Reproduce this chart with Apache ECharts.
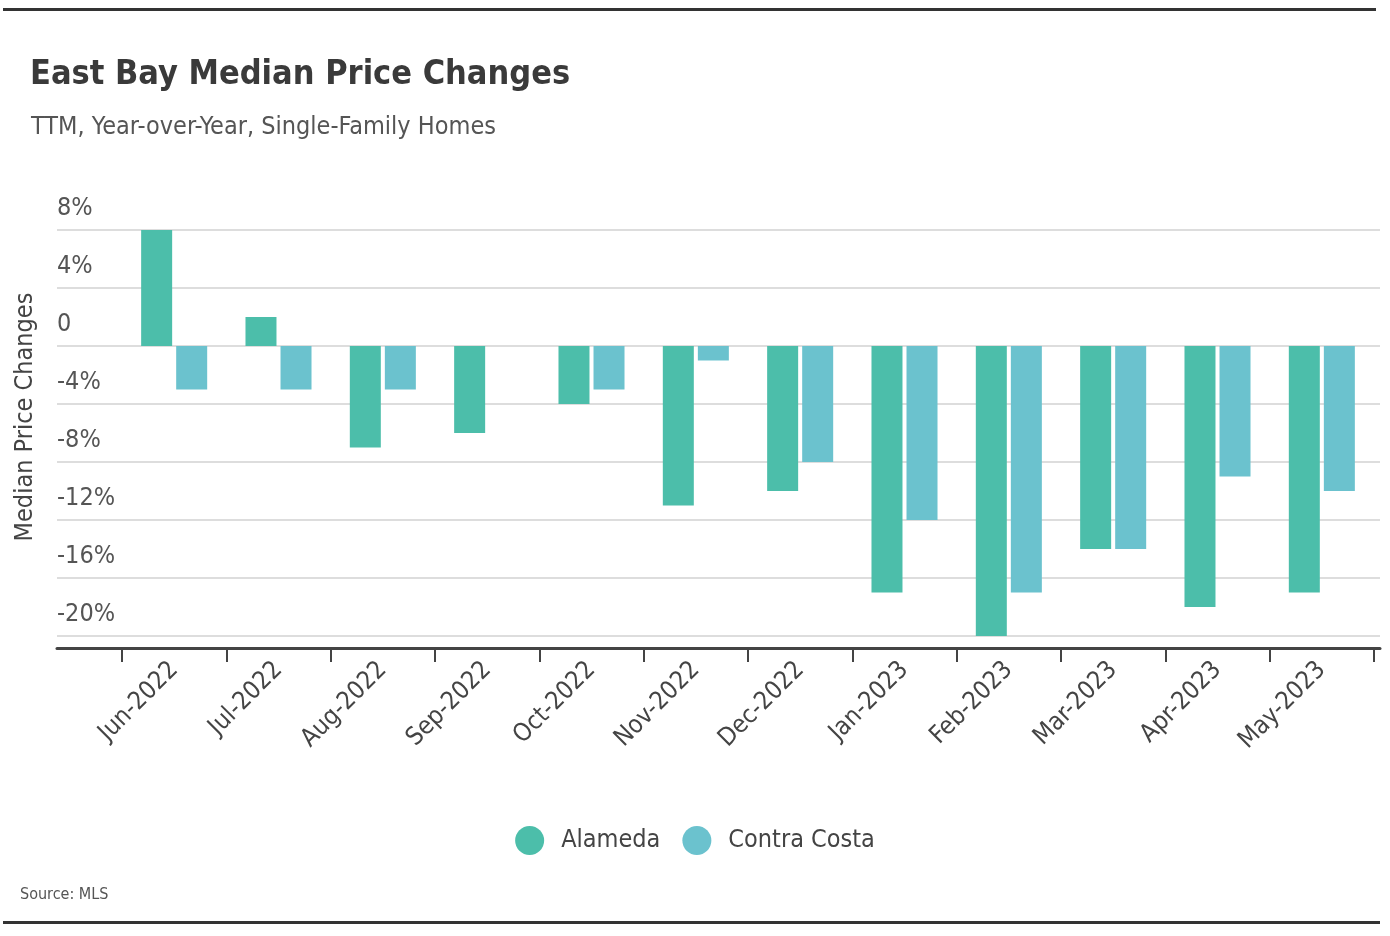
<!DOCTYPE html>
<html><head><meta charset="utf-8">
<script src="https://cdn.jsdelivr.net/npm/echarts@6/dist/echarts.min.js"></script>
<style>html,body{margin:0;padding:0;background:#fff}#c{width:1390px;height:936px}</style>
</head><body><div id="c"></div>
<script>
const categories = ['Jun-2022','Jul-2022','Aug-2022','Sep-2022','Oct-2022','Nov-2022','Dec-2022','Jan-2023','Feb-2023','Mar-2023','Apr-2023','May-2023'];
const alameda = [8, 2, -7, -6, -4, -11, -10, -17, -20, -14, -18, -17];
const contraCosta = [-3, -3, -3, 0, -3, -1, -8, -12, -17, -14, -9, -10];
const yTicks = {min: -20, max: 8, interval: 4};

const FONT = "'Liberation Sans Narrow','DejaVu Sans Condensed','Roboto Condensed',sans-serif";
const chart = echarts.init(document.getElementById('c'));
const gridTop = 230, gridBottom = 936 - 636;
chart.setOption({
  animation: false,
  textStyle: {fontFamily: FONT},
  title: [
    {text: 'East Bay Median Price Changes', left: 25, top: 53, textStyle: {fontFamily: FONT, fontSize: 34, fontWeight: 'bold', color: '#3a3a3a'}},
    {text: 'TTM, Year-over-Year, Single-Family Homes', left: 26, top: 110, textStyle: {fontFamily: FONT, fontSize: 25, fontWeight: 'normal', color: '#555'}},
    {text: 'Source: MLS', left: 15, top: 882, textStyle: {fontFamily: FONT, fontSize: 16, fontWeight: 'normal', color: '#555'}}
  ],
  legend: {
    data: ['Alameda', 'Contra Costa'],
    top: 821, left: 'center',
    icon: 'circle', itemWidth: 29, itemHeight: 29, itemGap: 22,
    textStyle: {fontFamily: FONT, fontSize: 25, color: '#444', padding: [0, 0, 0, 12]}
  },
  grid: [
    {left: 57, right: 10, top: gridTop, bottom: gridBottom},
    {left: 122, right: 16, top: gridTop, bottom: gridBottom}
  ],
  xAxis: [
    {gridIndex: 0, type: 'value', min: 0, max: 1, position: 'bottom', offset: 12,
     axisLine: {show: true, onZero: false, lineStyle: {color: '#444', width: 3}},
     axisTick: {show: false}, axisLabel: {show: false}, splitLine: {show: false}},
    {gridIndex: 1, type: 'category', data: categories, position: 'bottom', offset: 12,
     boundaryGap: true,
     axisLine: {show: false, onZero: false},
     axisTick: {show: true, length: 14, lineStyle: {color: '#444', width: 2}},
     axisLabel: {rotate: 45, fontFamily: FONT, fontSize: 25, color: '#444', margin: 18, interval: 0}}
  ],
  yAxis: [
    {gridIndex: 0, type: 'value', min: yTicks.min, max: yTicks.max, interval: yTicks.interval,
     axisLine: {show: false}, axisTick: {show: false},
     splitLine: {show: true, lineStyle: {color: '#ddd', width: 2}},
     axisLabel: {inside: true, align: 'left', verticalAlign: 'bottom', margin: 0, padding: [0, 0, 9, 0],
       fontFamily: FONT, fontSize: 25, color: '#555',
       formatter: v => v === 0 ? '0' : v + '%'}},
    {gridIndex: 1, type: 'value', min: yTicks.min, max: yTicks.max, interval: yTicks.interval, show: false}
  ],
  graphic: [
    {type: 'line', shape: {x1: 3, y1: 9.5, x2: 1376, y2: 9.5}, style: {stroke: '#333', lineWidth: 3}},
    {type: 'line', shape: {x1: 3, y1: 922.5, x2: 1380, y2: 922.5}, style: {stroke: '#333', lineWidth: 3}},
    {type: 'text', x: 25, y: 417, rotation: Math.PI / 2,
     style: {text: 'Median Price Changes', fontFamily: FONT, fontSize: 25, fill: '#444', align: 'center', verticalAlign: 'middle'}}
  ],
  series: [
    {name: 'Alameda', type: 'bar', xAxisIndex: 1, yAxisIndex: 1, data: alameda, barWidth: 31, barGap: '13%', itemStyle: {color: '#4cbeaa'}},
    {name: 'Contra Costa', type: 'bar', xAxisIndex: 1, yAxisIndex: 1, data: contraCosta, barWidth: 31, barGap: '13%', itemStyle: {color: '#6bc2ce'}}
  ]
});
</script></body></html>
